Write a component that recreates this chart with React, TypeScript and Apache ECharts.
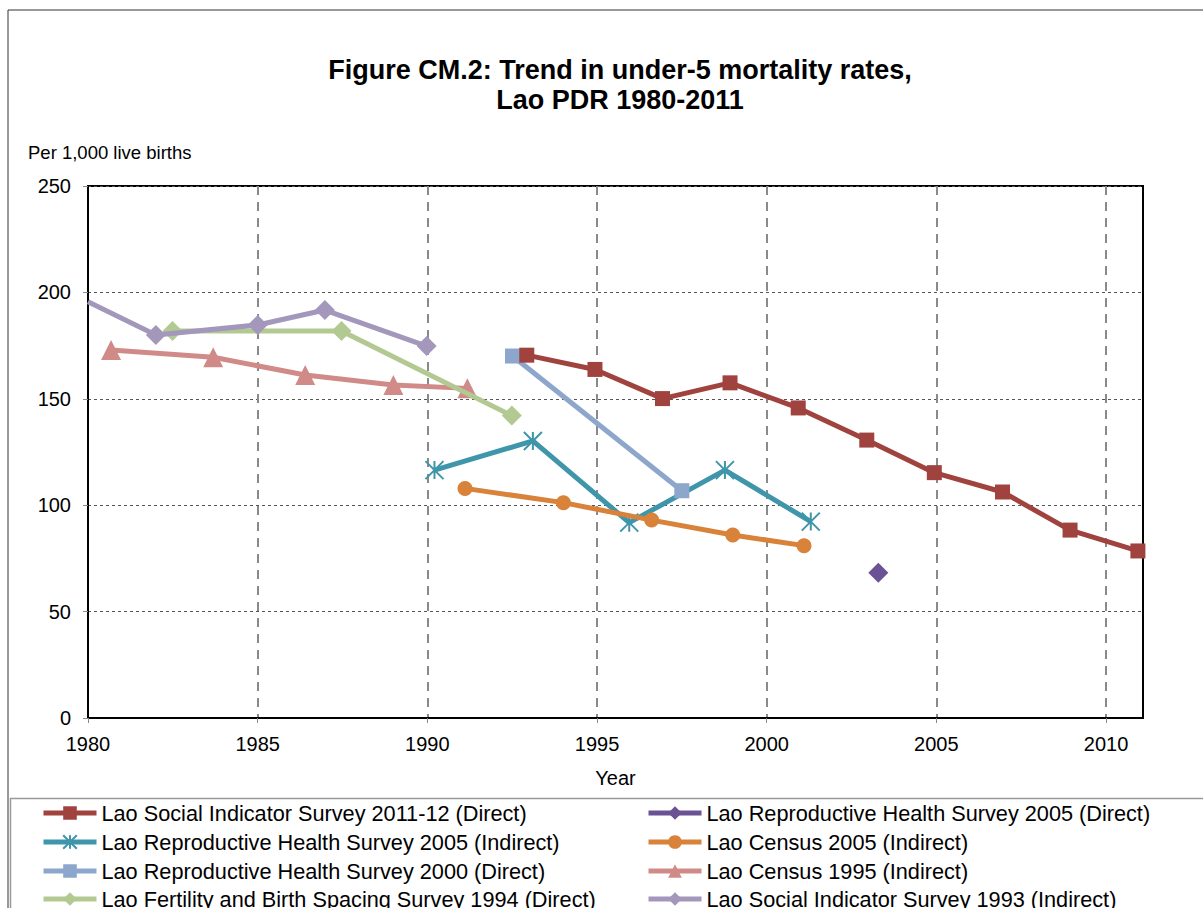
import React, { useEffect, useRef } from "react";
import * as echarts from "echarts";

const seriesNames = [
  "Lao Social Indicator Survey 2011-12 (Direct)",
  "Lao Reproductive Health Survey 2005 (Direct)",
  "Lao Reproductive Health Survey 2005 (Indirect)",
  "Lao Census 2005 (Indirect)",
  "Lao Reproductive Health Survey 2000 (Direct)",
  "Lao Census 1995 (Indirect)",
  "Lao Fertility and Birth Spacing Survey 1994 (Direct)",
  "Lao Social Indicator Survey 1993 (Indirect)",
];

const sis2011Years = [1992.93, 1994.94, 1996.93, 1998.92, 2000.93, 2002.95, 2004.94, 2006.95, 2008.94, 2010.94];
const sis2011Values = [170.5, 163.8, 150.1, 157.5, 145.7, 130.6, 115.3, 106.2, 88.3, 78.5];

const rhs2005DirYears = [2003.29];
const rhs2005DirValues = [68.3];

const rhs2005IndYears = [1990.21, 1993.11, 1995.95, 1998.77, 2001.3];
const rhs2005IndValues = [116.5, 130.2, 91.8, 116.5, 92.3];

const census2005Years = [1991.11, 1994.01, 1996.61, 1999.0, 2001.1];
const census2005Values = [107.9, 101.2, 93.0, 86.0, 81.0];

const rhs2000Years = [1992.51, 1997.5];
const rhs2000Values = [170.1, 106.8];

const census1995Years = [1980.68, 1983.69, 1986.4, 1989.0, 1991.18];
const census1995Values = [172.9, 169.5, 161.2, 156.5, 154.9];

const fbss1994Years = [1982.49, 1987.47, 1992.49];
const fbss1994Values = [181.9, 181.9, 142.1];

const sis1993Years = [1980.0, 1982.0, 1985.0, 1986.98, 1989.98];
const sis1993Values = [195.6, 180.0, 184.7, 191.7, 174.8];

const xTickYears = [1980, 1985, 1990, 1995, 2000, 2005, 2010];
const yTicks = [0, 50, 100, 150, 200, 250];

const colors = ["#A0433F", "#6A5294", "#3F95A9", "#D8823A", "#8DA6CB", "#D08B88", "#B3C992", "#A497BC"];

const FONT = "Liberation Sans, Arial, sans-serif";

const starPath = "path://M0,0 L10,10 M10,0 L0,10 M5,0 L5,10";

function pairs(xs: number[], ys: number[]) {
  return xs.map((x, i) => [x, ys[i]]);
}

export default function App() {
  const ref = useRef<HTMLDivElement>(null);
  useEffect(() => {
    if (!ref.current) return;
    const chart = echarts.init(ref.current, undefined, { renderer: "svg" });

    const sis1993Data: any[] = pairs(sis1993Years, sis1993Values);
    sis1993Data[0] = { value: sis1993Data[0], symbol: "none" };

    const defs = [
      { data: pairs(sis2011Years, sis2011Values), symbol: "rect", size: 15 },
      { data: pairs(rhs2005DirYears, rhs2005DirValues), symbol: "diamond", size: 20 },
      { data: pairs(rhs2005IndYears, rhs2005IndValues), symbol: starPath, size: 18, star: true },
      { data: pairs(census2005Years, census2005Values), symbol: "circle", size: 15 },
      { data: pairs(rhs2000Years, rhs2000Values), symbol: "rect", size: 15 },
      { data: pairs(census1995Years, census1995Values), symbol: "triangle", size: 20 },
      { data: pairs(fbss1994Years, fbss1994Values), symbol: "diamond", size: 20 },
      { data: sis1993Data, symbol: "diamond", size: 20 },
    ];

    const series = defs.map((d: any, i) => ({
      name: seriesNames[i],
      type: "line",
      data: d.data,
      symbol: d.symbol,
      symbolSize: d.size,
      showSymbol: true,
      clip: true,
      z: i === 0 ? 10 : 2 + i * 0.01,
      lineStyle: { width: 5, color: colors[i] },
      itemStyle: d.star
        ? { color: colors[i], borderColor: colors[i], borderWidth: 2 }
        : { color: colors[i], borderWidth: 0 },
      emphasis: { disabled: true },
    }));

    const legendPos = [
      { left: 41, top: 814 },
      { left: 646, top: 814 },
      { left: 41, top: 843 },
      { left: 646, top: 843 },
      { left: 41, top: 872 },
      { left: 646, top: 872 },
      { left: 41, top: 900 },
      { left: 646, top: 900 },
    ];

    const legends = seriesNames.map((n, i) => ({
      data: [n],
      left: legendPos[i].left,
      top: legendPos[i].top - 12,
      padding: 0,
      itemWidth: 53,
      itemHeight: 17,
      itemGap: 0,
      lineStyle: { width: 5 },
      textStyle: { fontFamily: FONT, fontSize: 21.7, color: "#000" },
      selectedMode: false,
    }));

    chart.setOption({
      animation: false,
      backgroundColor: "#fff",
      title: {
        text: "Figure CM.2: Trend in under-5 mortality rates,\nLao PDR 1980-2011",
        left: 615,
        top: 50,
        textAlign: "center",
        textStyle: { fontFamily: FONT, fontSize: 27, fontWeight: "bold", color: "#000", lineHeight: 30 },
      },
      legend: legends,
      grid: {
        left: 88,
        top: 186,
        right: 60,
        bottom: 190,
        show: true,
        borderColor: "#000",
        borderWidth: 2,
        backgroundColor: "transparent",
      },
      xAxis: {
        type: "value",
        min: 1980,
        max: 2011.09,
        interval: 5,
        name: "Year",
        nameLocation: "middle",
        nameGap: 50,
        nameTextStyle: { fontFamily: FONT, fontSize: 20, color: "#000" },
        axisLine: { show: true, lineStyle: { color: "#000", width: 2 } },
        axisTick: { show: true, length: 5, lineStyle: { color: "#888" } },
        axisLabel: {
          fontFamily: FONT,
          fontSize: 20,
          color: "#000",
          margin: 16,
          showMaxLabel: false,
          formatter: (v: number) => (xTickYears.includes(v) ? String(v) : ""),
        },
        splitLine: { show: true, lineStyle: { color: "#8a8a8a", width: 2, type: [9, 7] } },
      },
      yAxis: {
        type: "value",
        min: 0,
        max: 250,
        interval: 50,
        axisLine: { show: true, lineStyle: { color: "#000", width: 2 } },
        axisTick: { show: true, length: 5, lineStyle: { color: "#888" } },
        axisLabel: {
          fontFamily: FONT,
          fontSize: 20,
          color: "#000",
          margin: 17,
          formatter: (v: number) => (yTicks.includes(v) ? String(v) : ""),
        },
        splitLine: { show: true, lineStyle: { color: "#555", width: 1, type: [3, 3] } },
      },
      graphic: [
        { type: "line", shape: { x1: 8, y1: 10, x2: 1203, y2: 10 }, style: { stroke: "#333", lineWidth: 1 } },
        { type: "line", shape: { x1: 8, y1: 10, x2: 8, y2: 908 }, style: { stroke: "#333", lineWidth: 1 } },
        { type: "line", shape: { x1: 1143, y1: 186, x2: 1143, y2: 718 }, style: { stroke: "#000", lineWidth: 2 }, z: 5 },
        { type: "rect", shape: { x: 10.5, y: 798.5, width: 1200, height: 120 }, style: { fill: "none", stroke: "#999", lineWidth: 1.5 }, z: -1 },
        {
          type: "text",
          left: 28,
          top: 143,
          style: { text: "Per 1,000 live births", fontFamily: FONT, fontSize: 18.5, fill: "#000" },
        },
      ],
      series,
    });
    return () => chart.dispose();
  }, []);
  return <div ref={ref} style={{ position: "absolute", left: 0, top: 0, width: 1203, height: 908 }} />;
}
